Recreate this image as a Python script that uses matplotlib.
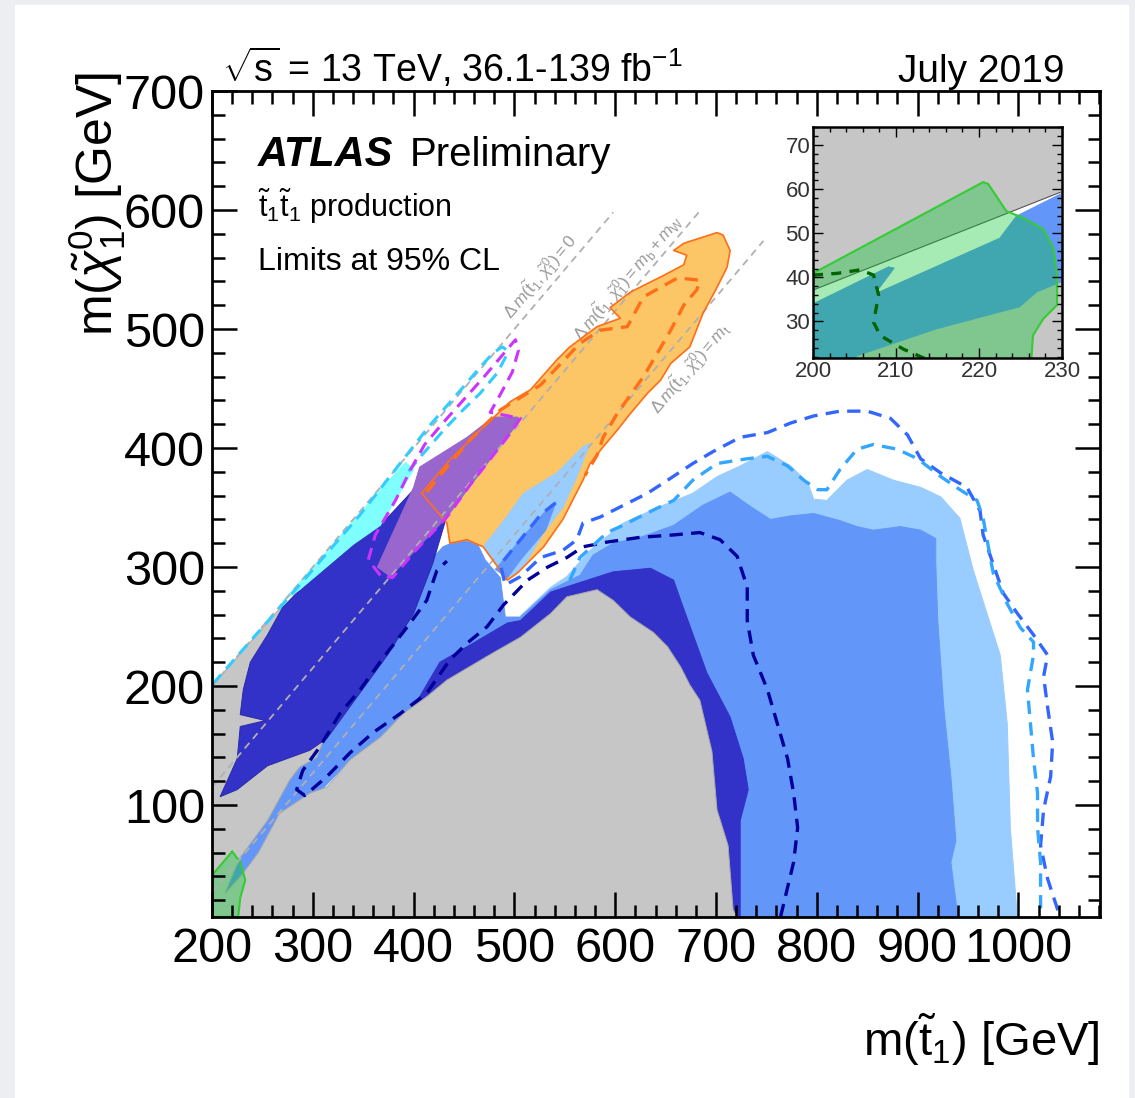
import numpy as np
import matplotlib.pyplot as plt
from matplotlib.patches import Rectangle
from matplotlib.ticker import MultipleLocator

plt.rcParams['font.family'] = ['Liberation Sans', 'DejaVu Sans']
plt.rcParams['mathtext.fontset'] = 'custom'
plt.rcParams['mathtext.rm'] = 'Liberation Sans'
plt.rcParams['mathtext.it'] = 'Liberation Sans:italic'
plt.rcParams['mathtext.bf'] = 'Liberation Sans:bold'

# --- exclusion regions, (m_stop, m_neutralino) in GeV ---
gray_region = [(200, 6), (200, 200), (270, 268), (317, 239), (312, 158), (304, 140), (287, 132),
               (277, 121),
               (255, 87), (228, 56), (213, 26), (231, 43), (246, 60), (267, 93), (297, 110),
               (314, 115), (337, 138), (367, 157), (390, 177), (413, 191), (433, 205), (479, 228),
               (506, 241), (536, 261), (552, 275), (582, 281), (598, 272), (615, 258), (638, 245),
               (652, 233), (665, 216), (674, 201), (684, 188), (696, 145), (701, 96), (712, 66),
               (717, 12), (721, 6)]

light_blue_region = [(506, 259), (536, 283), (552, 292), (575, 314), (608, 337), (642, 350),
                     (677, 362), (701, 376), (724, 385), (751, 397), (774, 385), (791, 371),
                     (797, 357), (810, 356), (830, 373), (850, 382), (876, 373), (903, 367),
                     (923, 359), (942, 341), (955, 298), (982, 226), (989, 168), (992, 81),
                     (999, 6), (744, 6), (585, 239)]

light_blue_tongue = [(575, 404), (562, 376), (548, 350), (529, 329), (509, 300), (496, 292),
                     (486, 298), (469, 317), (486, 335), (509, 362), (542, 379), (568, 401)]

medium_blue_region = [(210, 20), (228, 56), (255, 87), (277, 121), (287, 132), (304, 140),
                      (312, 158), (340, 195), (370, 230), (396, 265), (414, 303), (426, 314),
                      (429, 317), (446, 323),
                      (463, 320), (471, 306), (486, 291), (491, 258), (506, 258), (536, 281),
                      (565, 293), (578, 310), (598, 320), (625, 325), (658, 335), (687, 352),
                      (714, 363), (734, 351), (754, 340), (774, 343), (797, 345), (823, 339),
                      (840, 334), (856, 331), (883, 334), (903, 331), (918, 324), (918, 304),
                      (920, 255), (926, 182), (933, 124), (938, 70), (933, 52), (940, 6),
                      (724, 6), (684, 188), (585, 272), (436, 197), (337, 138), (231, 43)]

medium_blue_sliver = [(481, 298), (506, 323), (536, 352), (541, 354), (531, 331), (506, 306),
                      (493, 291)]

dark_blue_band = [(372, 155), (397, 178), (426, 220), (459, 236), (493, 253), (506, 255),
                  (536, 279), (565, 287), (598, 296), (635, 299), (658, 289), (665, 272),
                  (691, 211), (714, 174), (727, 139), (732, 113), (724, 87), (724, 6),
                  (704, 6), (585, 188), (436, 171), (387, 150)]

dark_blue_diag = [(208, 107), (225, 139), (228, 166), (253, 171), (228, 176), (231, 197),
                  (238, 220), (255, 243), (270, 266), (287, 281), (340, 319), (367, 335),
                  (400, 365), (403, 369), (433, 343), (419, 303), (400, 261), (374, 226),
                  (344, 191), (314, 156), (297, 146), (255, 133), (225, 113)]

cyan_strip = [(270, 271), (317, 316), (367, 365), (392, 388), (400, 382), (382, 356),
              (367, 335), (340, 319), (287, 281)]

purple_region = [(364, 300), (377, 292), (433, 342), (506, 424), (503, 426), (479, 426),
                 (453, 409), (406, 384), (400, 367)]

orange_region = [(408, 362), (436, 390), (466, 415), (496, 439), (516, 449), (542, 474),
                 (555, 485), (582, 502), (605, 509), (595, 518), (615, 531), (648, 545),
                 (668, 554), (671, 562), (658, 566), (668, 572), (701, 581), (707, 579),
                 (714, 566), (711, 552), (701, 535), (687, 513), (674, 485), (655, 471),
                 (645, 457), (632, 446), (615, 429), (602, 415), (588, 401), (575, 387),
                 (568, 373), (548, 340), (529, 317), (503, 295), (493, 289), (469, 317),
                 (453, 323), (436, 320), (433, 337)]

green_region = [(200, 41), (220, 61), (228, 52), (233, 37), (228, 22), (226, 6), (200, 6)]

# --- expected limits (dashed) ---
orange_expected = [(413, 363), (431, 382), (456, 407), (486, 432), (526, 453), (565, 488),
                   (585, 499), (612, 502), (628, 527), (662, 543), (684, 541), (681, 533),
                   (668, 520), (655, 499), (642, 480), (628, 460), (602, 429), (588, 409),
                   (582, 394), (570, 377)]

navy_expected = [(764, 6), (777, 52), (781, 81), (777, 110), (771, 139), (761, 168),
                 (751, 197), (737, 226), (731, 255), (731, 283), (721, 309), (704, 323),
                 (684, 329), (658, 327), (625, 325), (592, 321), (568, 317), (552, 308),
                 (533, 300), (513, 289), (489, 268), (473, 250), (453, 236), (436, 222),
                 (413, 194), (387, 177), (360, 161), (337, 144), (314, 124), (292, 108),
                 (284, 113), (290, 129), (307, 149), (327, 177), (347, 197), (370, 224),
                 (394, 250), (413, 272), (423, 297), (433, 305)]

blue_expected = [(541, 354), (526, 344), (506, 323), (486, 302), (491, 285), (506, 292),
                 (526, 308), (548, 314), (562, 323), (568, 337), (585, 342), (632, 362),
                 (652, 373), (677, 387), (697, 397), (724, 409), (751, 413), (774, 421),
                 (797, 427), (823, 431), (850, 431), (873, 425), (890, 411), (903, 391),
                 (923, 379), (949, 367), (962, 347), (965, 327), (985, 278), (999, 261),
                 (1015, 243), (1029, 226), (1025, 208), (1029, 182), (1034, 153), (1032, 124),
                 (1025, 96), (1022, 66), (1029, 38), (1039, 12), (1042, 6)]

light_blue_expected = [(555, 289), (565, 308), (592, 329), (605, 334), (638, 348), (658, 356),
                       (677, 373), (701, 387), (731, 391), (751, 393), (771, 385), (787, 373),
                       (801, 365), (810, 365), (823, 382), (840, 399), (856, 403), (880, 399),
                       (900, 391), (923, 376), (942, 365), (959, 356), (965, 341), (975, 295),
                       (989, 269), (1002, 249), (1015, 237), (1015, 226), (1009, 197),
                       (1012, 168), (1015, 139), (1019, 110), (1019, 81), (1022, 52),
                       (1022, 24), (1022, 6)]

cyan_expected = [(201, 202), (287, 285), (347, 344), (416, 419), (449, 451), (466, 468),
                 (479, 480), (488, 485), (493, 482), (491, 476), (483, 463), (466, 446),
                 (449, 432), (433, 418), (406, 392), (392, 377)]

magenta_expected = [(367, 293), (355, 306), (362, 327), (382, 356), (397, 382), (411, 403),
                    (429, 421), (449, 440), (469, 459), (486, 476), (501, 491), (504, 482),
                    (498, 464), (486, 445), (476, 430), (506, 425), (491, 407), (456, 369),
                    (433, 342), (402, 314), (379, 291), (367, 293)]

# kinematic reference lines: dm = 0, m_b + m_W, m_t
dm_values = [0.0, 84.8, 173.0]
dm_xmax = [598, 685, 747]
dm_labels = [r'$\Delta\,m(\tilde{\mathrm{t}}_{1},\tilde{\chi}^{0}_{1}) = 0$',
             r'$\Delta\,m(\tilde{\mathrm{t}}_{1},\tilde{\chi}^{0}_{1}) = m_{\mathrm{b}} + m_{\mathrm{W}}$',
             r'$\Delta\,m(\tilde{\mathrm{t}}_{1},\tilde{\chi}^{0}_{1}) = m_{\mathrm{t}}$']
dm_label_pos = [(526, 544), (613, 543), (674, 467)]

# --- zoomed view of the low-mass corner ---
inset_gap = [(200, 37.1), (229.8, 59.3), (229.8, 58.9), (224.5, 53.9), (222.5, 48.9),
             (207.5, 36.3), (209.8, 42.1), (209.1, 42.4), (200, 34.0)]
inset_blue = [(200, 34.0), (209.1, 42.4), (209.8, 42.1), (207.5, 36.3), (222.5, 48.9),
              (224.5, 53.9), (229.8, 58.9), (230, 39.0), (227.0, 36.7), (224.9, 33.3),
              (214.9, 28.3), (205.3, 22.2), (204.9, 21.0), (200, 21.0)]
inset_green = [(200, 40.9), (220.5, 61.6), (221.1, 61.2), (223.3, 55.0), (225.3, 53.5),
               (227.75, 50.9), (228.96, 46.65), (229.4, 40.5), (229.4, 33.7), (227.75, 30.6),
               (226.5, 26.8), (226.3, 21.0), (200, 21.0)]
inset_green_expected = [(200, 40.5), (202.9, 40.9), (205.7, 41.7), (207.3, 40.5), (207.9, 36.0),
                        (207.3, 29.8), (208.1, 26.8), (210.9, 23.7), (213.7, 21.4)]
inset_edge = [(200, 37.1), (229.8, 59.3)]


def xy(points):
    arr = np.array(points, dtype=float)
    return arr[:, 0], arr[:, 1]


fig = plt.figure(figsize=(11.35, 10.98), dpi=100)
fig.patch.set_facecolor('#eceef1')
fig.add_artist(Rectangle((15 / 1135, 0), 1113 / 1135, 1 - 5 / 1098,
                         transform=fig.transFigure, color='white', zorder=-1))

ax = fig.add_axes([0.1868, 0.1649, 0.7824, 0.7522])
ax.set_xlim(200, 1081)
ax.set_ylim(6, 700)

fills = [
    (light_blue_region, '#99ccff', '#99ccff', 1.0),
    (medium_blue_region, '#6396f9', '#6396f9', 1.1),
    (dark_blue_band, '#3232c8', '#3232c8', 1.2),
    (gray_region, '#c6c6c6', '#a8a8a8', 1.3),
    (orange_region, '#fcc566', '#fcc566', 1.4),
    (light_blue_tongue, '#99ccff', '#99ccff', 1.5),
    (medium_blue_sliver, '#6396f9', '#6396f9', 1.55),
    (dark_blue_diag, '#3232c8', '#2a2aa8', 1.6),
    (cyan_strip, '#80ffff', '#80ffff', 1.7),
    (purple_region, '#9866cc', '#9866cc', 1.8),
]
for pts, col, edge, z in fills:
    x, y = xy(pts)
    ax.fill(x, y, facecolor=col, edgecolor=edge, lw=0.7, zorder=z)

x, y = xy(green_region)
ax.fill(x, y, facecolor=(0.0, 0.78, 0.16, 0.35), edgecolor='#33cc33', lw=1.5, zorder=1.9)

# diagonal reference lines
for dm, xmax, lab, (lx, ly) in zip(dm_values, dm_xmax, dm_labels, dm_label_pos):
    xs = np.array([200.0, xmax])
    ax.plot(xs, xs - dm, color='#b0b0b0', lw=1.3, ls=(0, (4, 3)), zorder=2.0)
    ax.text(lx, ly, lab, fontsize=12.5, color='#9a9a9a', rotation=45,
            transform_rotates_text=True, rotation_mode='anchor',
            ha='center', va='center', zorder=2.0)

x, y = xy(orange_region)
ax.plot(np.append(x, x[0]), np.append(y, y[0]), color='#ff6f1a', lw=1.2, zorder=2.1)

dashed = [
    (orange_expected, '#ff6f1a', 2.4),
    (navy_expected, '#000099', 2.4),
    (blue_expected, '#3366ff', 2.4),
    (light_blue_expected, '#33a6ff', 2.4),
    (cyan_expected, '#33ccff', 2.2),
    (magenta_expected, '#cc33ff', 2.2),
]
for pts, col, lw in dashed:
    x, y = xy(pts)
    ax.plot(x, y, color=col, lw=lw, ls=(0, (4, 2.5)), zorder=2.2)

ax.set_xticks(range(200, 1001, 100))
ax.set_yticks(range(100, 701, 100))
ax.xaxis.set_minor_locator(MultipleLocator(20))
ax.yaxis.set_minor_locator(MultipleLocator(20))
ax.tick_params(which='both', direction='in', top=True, right=True, width=1.8, labelsize=35)
ax.tick_params(which='major', length=18)
ax.tick_params(which='minor', length=9)
ax.tick_params(axis='x', pad=7)
ax.tick_params(axis='y', pad=5)
for sp in ax.spines.values():
    sp.set_linewidth(2.0)
ax.set_axisbelow(False)

fig.text(1100 / 1135, 1 - 1040 / 1098, r'm($\tilde{\mathrm{t}}_{1}$) [GeV]', fontsize=34,
         ha='right', va='center')
fig.text(97 / 1135, 1 - 72 / 1098, r'm($\tilde{\chi}^{0}_{1}$) [GeV]', fontsize=36,
         rotation=90, ha='center', va='top')

fig.text(222 / 1135, 1 - 82 / 1098, r'$\sqrt{\mathrm{s}}$ = 13 TeV, 36.1-139 fb$^{-1}$',
         fontsize=27, va='baseline')
fig.text(1065 / 1135, 1 - 82 / 1098, 'July 2019', fontsize=28, ha='right', va='baseline')

ax.text(0.0518, (917 - 166) / 826, 'ATLAS', transform=ax.transAxes, fontsize=30,
        fontweight='bold', fontstyle='italic', va='baseline')
ax.text(0.223, (917 - 166) / 826, 'Preliminary', transform=ax.transAxes, fontsize=29,
        va='baseline')
ax.text(0.0518, (917 - 217) / 826, r'$\tilde{\mathrm{t}}_{1}\tilde{\mathrm{t}}_{1}$ production',
        transform=ax.transAxes, fontsize=22, va='baseline')
ax.text(0.0518, (917 - 270) / 826, 'Limits at 95% CL', transform=ax.transAxes, fontsize=23,
        va='baseline')

# inset
axi = fig.add_axes([813 / 1135, 1 - 358 / 1098, 249 / 1135, 231 / 1098])
axi.set_facecolor('#c6c6c6')
axi.set_xlim(200, 230)
axi.set_ylim(21.7, 74.1)
x, y = xy(inset_gap)
axi.fill(x, y, color='white', lw=0, zorder=1)
x, y = xy(inset_blue)
axi.fill(x, y, color='#6396f9', lw=0.5, zorder=1.1)
x, y = xy(inset_edge)
axi.plot(x, y, color='#555555', lw=0.8, zorder=1.2)
x, y = xy(inset_green)
axi.fill(x, y, facecolor=(0.0, 0.78, 0.16, 0.35), edgecolor='#33cc33', lw=1.5, zorder=1.3)
x, y = xy(inset_green_expected)
axi.plot(x, y, color='#006400', lw=2.4, ls=(0, (3, 2.5)), zorder=1.4)
axi.set_xticks([200, 210, 220, 230])
axi.set_yticks([30, 40, 50, 60, 70])
axi.xaxis.set_minor_locator(MultipleLocator(2))
axi.yaxis.set_minor_locator(MultipleLocator(2))
axi.tick_params(which='both', direction='in', top=True, right=True, width=1.0,
                labelsize=16, labelcolor='#333333', pad=2)
axi.tick_params(which='major', length=7)
axi.tick_params(which='minor', length=3.5)
for sp in axi.spines.values():
    sp.set_linewidth(1.8)
axi.set_axisbelow(False)

fig.savefig('out.png', dpi=100, facecolor=fig.get_facecolor())
